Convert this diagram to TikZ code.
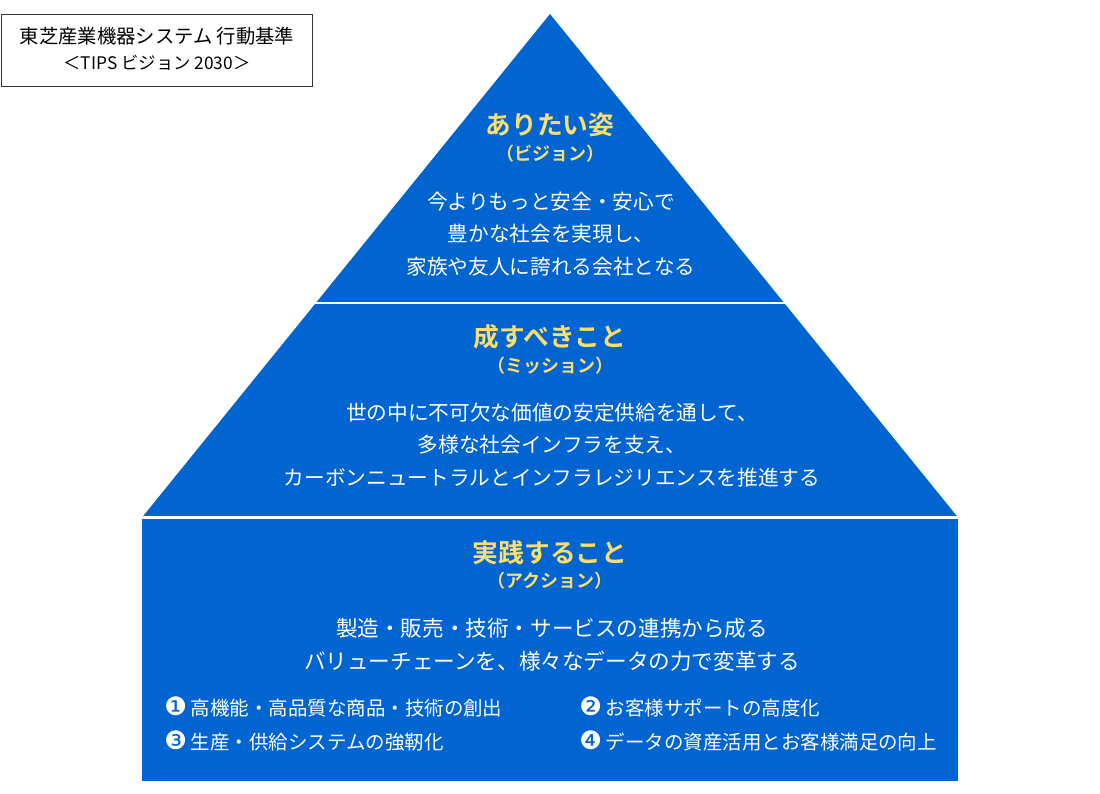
\documentclass[tikz,border=0pt]{standalone}
\usepackage{fontspec}
\setmainfont{Noto Sans CJK JP}
\newfontfamily\jpbold{Noto Sans CJK JP Bold}
\newfontfamily\symfont{DejaVu Sans}
\definecolor{pyrblue}{RGB}{0,101,209}
\definecolor{headyellow}{RGB}{250,222,110}
\definecolor{frame}{RGB}{50,50,50}
\newcommand{\cnum}[1]{\raisebox{-0.6pt}{\symfont\fontsize{19pt}{19pt}\selectfont #1}\hspace{3pt}}
\tikzset{
  tier/.style={fill=pyrblue, draw=none},
  divider/.style={draw=white, line width=2.2pt},
  heading/.style={text=headyellow, font=\jpbold\fontsize{19.3pt}{22pt}\selectfont, inner sep=0pt},
  subheading/.style={text=headyellow, font=\jpbold\fontsize{13.5pt}{15pt}\selectfont, inner sep=0pt},
  body/.style={text=white, font=\fontsize{15.5pt}{24.5pt}\selectfont, align=center, inner sep=0pt},
  item/.style={text=white, font=\fontsize{14.6pt}{17pt}\selectfont, anchor=west, inner sep=0pt},
  titlebox/.style={draw=frame, line width=0.9pt, fill=white},
  titletext/.style={text=black, font=\fontsize{14.5pt}{17pt}\selectfont, inner sep=0pt}
}
\begin{document}
\begin{tikzpicture}[x=0.75pt,y=-0.75pt]
\useasboundingbox (0,0) rectangle (1100,793);
% pyramid
\coordinate (apex) at (550,14);
\coordinate (bl) at (142,517.5);
\coordinate (br) at (958,517.5);
\fill[tier] (apex) -- (br) -- (bl) -- cycle;
\fill[tier] (142,517.5) rectangle (958,781);
\draw[divider] (300,303) -- (800,303);
\draw[divider] (130,517.5) -- (970,517.5);
% title box
\node[titlebox, minimum width=233pt, minimum height=54pt, anchor=north west] (tbox) at (1,14) {};
\node[titletext] (t1) at (157,36) {東芝産業機器システム 行動基準};
\node[titletext, font=\fontsize{13pt}{15pt}\selectfont] (t2) at (157,63) {＜TIPS ビジョン 2030＞};
% top tier
\node[heading] (h1) at (550,125) {ありたい姿};
\node[subheading] (s1) at (550,154) {（ビジョン）};
\node[body] (b1) at (551,234) {今よりもっと安全・安心で\\豊かな社会を実現し、\\家族や友人に誇れる会社となる};
% middle tier
\node[heading] (h2) at (550,337) {成すべきこと};
\node[subheading] (s2) at (550,366) {（ミッション）};
\node[body] (b2) at (552,445) {世の中に不可欠な価値の安定供給を通して、\\多様な社会インフラを支え、\\カーボンニュートラルとインフラレジリエンスを推進する};
% bottom tier
\node[heading] (h3) at (550,553) {実践すること};
\node[subheading] (s3) at (550,581) {（アクション）};
\node[body, font=\fontsize{16.2pt}{24.5pt}\selectfont] (b3) at (552,644.5) {製造・販売・技術・サービスの連携から成る\\バリューチェーンを、様々なデータの力で変革する};
\node[item] (i1) at (164,707) {\cnum{❶}高機能・高品質な商品・技術の創出};
\node[item] (i3) at (164,741) {\cnum{❸}生産・供給システムの強靭化};
\node[item] (i2) at (579,707) {\cnum{❷}お客様サポートの高度化};
\node[item] (i4) at (579,741) {\cnum{❹}データの資産活用とお客様満足の向上};
\end{tikzpicture}
\end{document}
